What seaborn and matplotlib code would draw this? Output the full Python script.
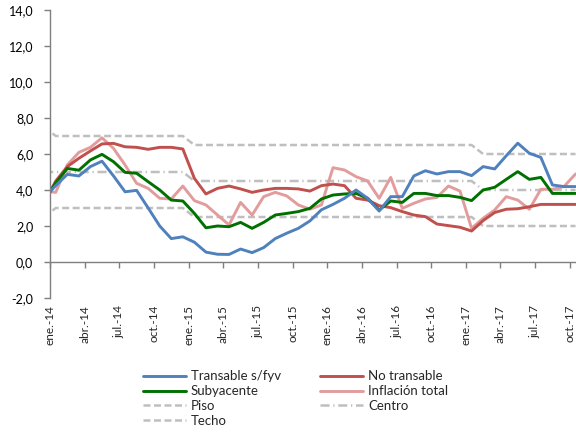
import numpy as np
import pandas as pd
import matplotlib
matplotlib.use("Agg")
import matplotlib.pyplot as plt
import seaborn as sns
from matplotlib.ticker import FuncFormatter

sns.set_style("white")
plt.rcParams['font.family'] = ['Lato', 'DejaVu Sans']

# ---------------- data (dic.-13 ... nov.-17, monthly) ----------------
abrev = ["ene.", "feb.", "mar.", "abr.", "may.", "jun.",
         "jul.", "ago.", "sep.", "oct.", "nov.", "dic."]
meses = ["dic.-13"] + [f"{m}-{a}" for a in ["14", "15", "16", "17"] for m in abrev][:46]

tick_labels = ["ene.-14", "abr.-14", "jul.-14", "oct.-14",
               "ene.-15", "abr.-15", "jul.-15", "oct.-15",
               "ene.-16", "abr.-16", "jul.-16", "oct.-16",
               "ene.-17", "abr.-17", "jul.-17", "oct.-17"]

transable = [3.55, 4.25, 4.87, 4.78, 5.3, 5.6, 4.78, 3.9, 3.98, 3.0, 2.0, 1.3,
             1.4, 1.1, 0.55, 0.43, 0.42, 0.72, 0.52, 0.8, 1.3, 1.6, 1.87, 2.28,
             2.9, 3.2, 3.54, 4.0, 3.54, 2.83, 3.63, 3.63, 4.78, 5.07, 4.89, 5.02,
             5.02, 4.8, 5.3, 5.17, 5.9, 6.6, 6.04, 5.81, 4.28, 4.19, 4.19]
no_transable = [3.3, 4.5, 5.3, 5.76, 6.17, 6.56, 6.59, 6.4, 6.37, 6.26, 6.37, 6.37,
                6.28, 4.65, 3.78, 4.09, 4.22, 4.06, 3.87, 4.0, 4.09, 4.09, 4.06, 3.94,
                4.24, 4.33, 4.24, 3.54, 3.44, 3.13, 3.02, 2.8, 2.61, 2.52, 2.11, 2.02,
                1.93, 1.72, 2.3, 2.75, 2.93, 2.96, 3.07, 3.2, 3.2, 3.2, 3.2]
subyacente = [3.4, 4.4, 5.2, 5.1, 5.67, 5.98, 5.57, 4.98, 4.93, 4.46, 4.0, 3.44,
              3.39, 2.7, 1.9, 2.0, 1.96, 2.2, 1.87, 2.2, 2.61, 2.7, 2.8, 2.98,
              3.5, 3.72, 3.78, 3.81, 3.54, 2.89, 3.39, 3.31, 3.81, 3.81, 3.69, 3.69,
              3.59, 3.41, 4.0, 4.15, 4.59, 5.02, 4.59, 4.7, 3.81, 3.81, 3.81]
inflacion = [3.93, 3.87, 5.39, 6.09, 6.37, 6.9, 6.31, 5.39, 4.37, 4.09, 3.54, 3.5,
             4.22, 3.41, 3.17, 2.61, 2.06, 3.31, 2.61, 3.63, 3.87, 3.67, 3.17, 2.93,
             3.17, 5.24, 5.11, 4.74, 4.5, 3.54, 4.7, 2.98, 3.26, 3.5, 3.59, 4.22,
             3.94, 1.87, 2.43, 2.89, 3.63, 3.44, 2.93, 4.04, 4.04, 4.19, 4.89]
piso = [2.5, 3.0, 3.0, 3.0, 3.0, 3.0, 3.0, 3.0, 3.0, 3.0, 3.0, 3.0,
        3.0, 2.5, 2.5, 2.5, 2.5, 2.5, 2.5, 2.5, 2.5, 2.5, 2.5, 2.5,
        2.5, 2.5, 2.5, 2.5, 2.5, 2.5, 2.5, 2.5, 2.5, 2.5, 2.5, 2.5,
        2.5, 2.5, 2.0, 2.0, 2.0, 2.0, 2.0, 2.0, 2.0, 2.0, 2.0]
centro = [5.0, 5.0, 5.0, 5.0, 5.0, 5.0, 5.0, 5.0, 5.0, 5.0, 5.0, 5.0,
          5.0, 4.5, 4.5, 4.5, 4.5, 4.5, 4.5, 4.5, 4.5, 4.5, 4.5, 4.5,
          4.5, 4.5, 4.5, 4.5, 4.5, 4.5, 4.5, 4.5, 4.5, 4.5, 4.5, 4.5,
          4.5, 4.5, 4.0, 4.0, 4.0, 4.0, 4.0, 4.0, 4.0, 4.0, 4.0]
techo = [7.5, 7.0, 7.0, 7.0, 7.0, 7.0, 7.0, 7.0, 7.0, 7.0, 7.0, 7.0,
         7.0, 6.5, 6.5, 6.5, 6.5, 6.5, 6.5, 6.5, 6.5, 6.5, 6.5, 6.5,
         6.5, 6.5, 6.5, 6.5, 6.5, 6.5, 6.5, 6.5, 6.5, 6.5, 6.5, 6.5,
         6.5, 6.5, 6.0, 6.0, 6.0, 6.0, 6.0, 6.0, 6.0, 6.0, 6.0]

# month k (ene.-14 = 0) plotted at the centre of its interval
pos = np.arange(len(meses)) - 0.5
df = pd.DataFrame({"pos": pos,
                   "Transable s/fyv": transable, "No transable": no_transable,
                   "Subyacente": subyacente, "Inflación total": inflacion,
                   "Piso": piso, "Centro": centro, "Techo": techo})

W, H = 576, 438
fig = plt.figure(figsize=(W / 100, H / 100), dpi=100)
ax = fig.add_axes([50 / W, 1 - 298 / H, 1 - 50 / W, 288 / H])

gray = "#BFBFBF"
band_lw = 1.8
dash = (0, (2.8, 1.4))
dashdot = (0, (3.6, 1.5, 0.5, 1.5))
styles = [
    ("Piso", gray, band_lw, dash),
    ("Techo", gray, band_lw, dash),
    ("Centro", gray, band_lw, dashdot),
    ("Inflación total", "#E29C9C", 2.1, "-"),
    ("No transable", "#C0504D", 2.1, "-"),
    ("Subyacente", "#007000", 2.1, "-"),
    ("Transable s/fyv", "#4F81BD", 2.1, "-"),
]
for name, col, lw, ls in styles:
    sns.lineplot(data=df, x="pos", y=name, ax=ax, color=col, linewidth=lw,
                 linestyle=ls, label=name, dash_capstyle="butt")

if ax.get_legend() is not None:
    ax.get_legend().remove()

ax.set_xlim(0, (576 - 50) / 11.55)
ax.set_ylim(-2, 14)
ax.set_xlabel("")
ax.set_ylabel("")

# y axis
ax.set_yticks(np.arange(-2, 15, 2))
ax.yaxis.set_major_formatter(FuncFormatter(lambda v, p: f"{v:.1f}".replace(".", ",")))
ax.tick_params(axis="y", left=True, length=4, width=1, color="#7F7F7F",
               direction="out", labelsize=9, pad=8, labelcolor="black")

# x labels at bottom (low position)
tick_pos = [i - 1 for i, m in enumerate(meses) if m in tick_labels]
ax.set_xticks(tick_pos)
ax.set_xticklabels(tick_labels, rotation=90)
ax.tick_params(axis="x", bottom=True, length=0, labelsize=8.5, pad=5)

for s in ["top", "right", "bottom"]:
    ax.spines[s].set_visible(False)
ax.spines["left"].set_color("#7F7F7F")
ax.spines["left"].set_linewidth(1.0)

# horizontal axis line at zero with tick marks
zero_frac = (0 - (-2)) / (14 - (-2))
sec = ax.secondary_xaxis(zero_frac)
sec.set_xticks(tick_pos)
sec.tick_params(axis="x", length=4, width=1, color="#7F7F7F", direction="out",
                labelbottom=False, labeltop=False)
for s in sec.spines.values():
    s.set_color("#7F7F7F")
    s.set_linewidth(1.0)

# legend
handles, labels = ax.get_legend_handles_labels()
hmap = dict(zip(labels, handles))
order = ["Transable s/fyv", "Subyacente", "Piso", "Techo",
         "No transable", "Inflación total", "Centro"]
fig.legend([hmap[o] for o in order], order, ncol=2, frameon=False,
           loc="upper left", bbox_to_anchor=(138 / W, 1 - 365 / H),
           fontsize=9.5, handlelength=3.2, handletextpad=0.4,
           labelspacing=0.22, columnspacing=3.0, borderaxespad=0)

fig.savefig("out.png", dpi=100)
